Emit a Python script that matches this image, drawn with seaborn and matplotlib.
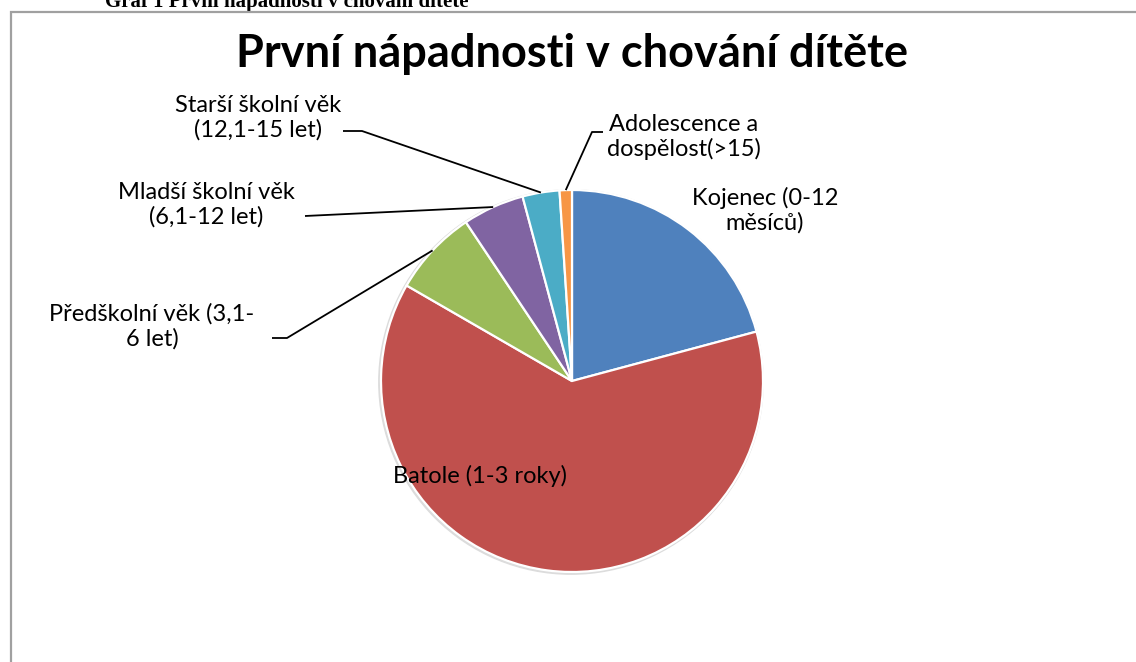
import matplotlib
matplotlib.use("Agg")
import matplotlib.pyplot as plt
import numpy as np
import seaborn as sns
from matplotlib.patches import Circle, Rectangle

# data (counts)
categories = [
    "Kojenec (0-12\nměsíců)",
    "Batole (1-3 roky)",
    "Předškolní věk (3,1-\n6 let)",
    "Mladší školní věk\n(6,1-12 let)",
    "Starší školní věk\n(12,1-15 let)",
    "Adolescence a\ndospělost(>15)",
]
counts = [20, 60, 7, 5, 3, 1]
colors = ["#4F81BD", "#C0504D", "#9BBB59", "#8064A2", "#4BACC6", "#F79646"]

title = "První nápadnosti v chování dítěte"
caption = "Graf 1 První nápadnosti v chování dítěte"

# layout in pixel coords (y measured from the top of the image)
W, H = 1136, 662
CX, CY, R = 572, 381, 191
label_xy = [(765, 210), (480, 476), (152, 326), (206, 205), (258, 118), (684, 137)]
elbow_xy = [None, None, (272, 287, 338), (305, 305, 216), (343, 362, 131), (603, 592, 132)]

sns.set_theme(style="white")
plt.rcParams["font.family"] = ["Lato", "DejaVu Sans"]

fig = plt.figure(figsize=(W / 100, H / 100), dpi=100)
ax = fig.add_axes([0, 0, 1, 1])


def Y(y):
    return H - y


# soft shadow under the pie
ax.add_patch(Circle((CX - 1, Y(CY) - 1), R + 1.2, color="#dcdcdc", zorder=0))

wedges, _ = ax.pie(
    counts,
    colors=colors,
    startangle=90,
    counterclock=False,
    center=(CX, Y(CY)),
    radius=R,
    wedgeprops=dict(edgecolor="white", linewidth=1.6),
)
for w in wedges:
    w.set_zorder(1)

total = sum(counts)
cum = np.cumsum([0] + counts)
for i, lab in enumerate(categories):
    lx, ly = label_xy[i]
    ax.text(lx, Y(ly), lab, ha="center", va="center", fontsize=17,
            color="black", linespacing=1.2, zorder=3)
    if elbow_xy[i] is not None:
        mid = 90 - (cum[i] + counts[i] / 2) / total * 360
        ex = CX + R * np.cos(np.radians(mid))
        ey = Y(CY) + R * np.sin(np.radians(mid))
        x0, x1, yy = elbow_xy[i]
        ax.plot([x0, x1, ex], [Y(yy), Y(yy), ey], color="black", lw=1.3,
                zorder=2, solid_capstyle="butt")

ax.text(W / 2 + 4, Y(54), title, ha="center", va="center", fontsize=32.5,
        fontweight="bold", color="black")
ax.text(105, Y(7), caption, ha="left", va="baseline", fontsize=15,
        fontweight="bold", family=["Liberation Serif", "DejaVu Serif"], color="black")

# chart frame (continues past the right and bottom edges)
ax.add_patch(Rectangle((11, -20), W + 40, Y(12) + 20, fill=False,
                       edgecolor="#a0a0a0", linewidth=1.6, zorder=4, clip_on=False))

ax.set_xlim(0, W)
ax.set_ylim(0, H)
ax.set_aspect("equal")
ax.axis("off")

fig.savefig("out.png", dpi=100)
